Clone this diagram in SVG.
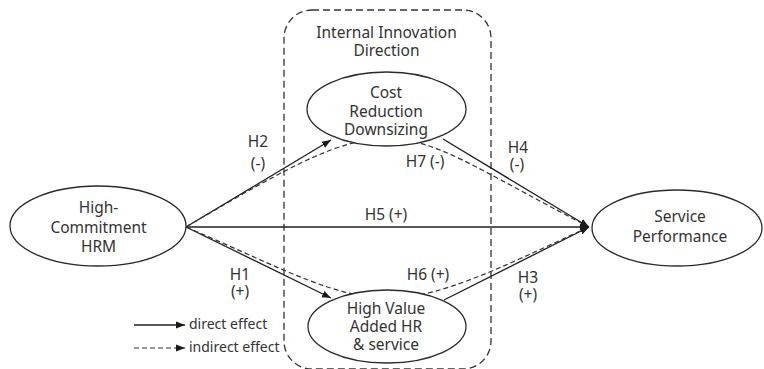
<svg xmlns="http://www.w3.org/2000/svg" width="764" height="369" viewBox="0 0 764 369">
  <defs>
    <marker id="arrow" markerUnits="userSpaceOnUse" markerWidth="10" markerHeight="8" refX="9" refY="4" orient="auto">
      <path d="M0,0.5 L9,4 L0,7.5 z" fill="#1a1a1a"/>
    </marker>
    <style>
      .node { fill: #ffffff; stroke: #2a2a2a; stroke-width: 1.3; }
      .label { font-family: "Noto Sans", "Open Sans", sans-serif; font-size: 15.5px; fill: #333333; text-anchor: middle; }
      .legend-text { font-family: "Noto Sans", "Open Sans", sans-serif; font-size: 14px; fill: #333333; }
      .direct { fill: none; stroke: #1f1f1f; stroke-width: 1.3; marker-end: url(#arrow); }
      .indirect { fill: none; stroke: #333333; stroke-width: 1.2; stroke-dasharray: 5 3; marker-end: url(#arrow); }
      .frame { fill: none; stroke: #333333; stroke-width: 1.3; stroke-dasharray: 7 4; }
    </style>
  </defs>

  <rect width="764" height="369" fill="#ffffff"/>

  <!-- mediator grouping frame -->
  <g id="internal-innovation-direction">
    <rect class="frame" x="284" y="10" width="207" height="359" rx="28" ry="28"/>
    <text class="label"><tspan x="386.5" y="38">Internal Innovation</tspan><tspan x="386.5" y="56">Direction</tspan></text>
  </g>

  <!-- paths between constructs -->
  <g id="connectors">
    <line class="direct" x1="186" y1="227" x2="589" y2="227"/>
    <line class="direct" x1="186" y1="227" x2="331" y2="140"/>
    <line class="direct" x1="186" y1="227" x2="331" y2="298"/>
    <line class="direct" x1="443" y1="139" x2="589" y2="227"/>
    <line class="direct" x1="444" y1="300" x2="589" y2="227"/>
    <path class="indirect" d="M186,227 C300,160 340,139 388,139 C436,139 470,165 589,227"/>
    <path class="indirect" d="M186,227 C290,272 335,298 390,298 C440,298 500,268 589,227"/>

    <text class="label"><tspan x="258" y="147">H2</tspan><tspan x="258" y="169">(-)</tspan></text>
    <text class="label"><tspan x="240" y="280">H1</tspan><tspan x="240" y="297">(+)</tspan></text>
    <text class="label" x="386" y="220">H5 (+)</text>
    <text class="label" x="425" y="167">H7 (-)</text>
    <text class="label" x="428" y="280">H6 (+)</text>
    <text class="label"><tspan x="518" y="153">H4</tspan><tspan x="517" y="170">(-)</tspan></text>
    <text class="label"><tspan x="528" y="283">H3</tspan><tspan x="528" y="300">(+)</tspan></text>
  </g>

  <g id="high-commitment-hrm">
    <ellipse class="node" cx="98" cy="226" rx="88" ry="40"/>
    <text class="label"><tspan x="98.5" y="213">High-</tspan><tspan x="98.5" y="233">Commitment</tspan><tspan x="98.5" y="252">HRM</tspan></text>
  </g>

  <g id="cost-reduction-downsizing">
    <ellipse class="node" cx="386.5" cy="109" rx="79.5" ry="37"/>
    <text class="label"><tspan x="386" y="98">Cost</tspan><tspan x="386" y="117">Reduction</tspan><tspan x="386" y="135">Downsizing</tspan></text>
  </g>

  <g id="high-value-added-hr-service">
    <ellipse class="node" cx="387" cy="326.5" rx="79" ry="36.5"/>
    <text class="label"><tspan x="386" y="314">High Value</tspan><tspan x="386" y="332">Added HR</tspan><tspan x="386" y="350">&amp; service</tspan></text>
  </g>

  <g id="service-performance">
    <ellipse class="node" cx="677" cy="228" rx="85" ry="38"/>
    <text class="label"><tspan x="680" y="222">Service</tspan><tspan x="680" y="242">Performance</tspan></text>
  </g>

  <g id="legend">
    <line class="direct" x1="134" y1="325" x2="185" y2="325"/>
    <text class="legend-text" x="189" y="329">direct effect</text>
    <line class="indirect" x1="134" y1="348" x2="185" y2="348"/>
    <text class="legend-text" x="189" y="352">indirect effect</text>
  </g>
</svg>
